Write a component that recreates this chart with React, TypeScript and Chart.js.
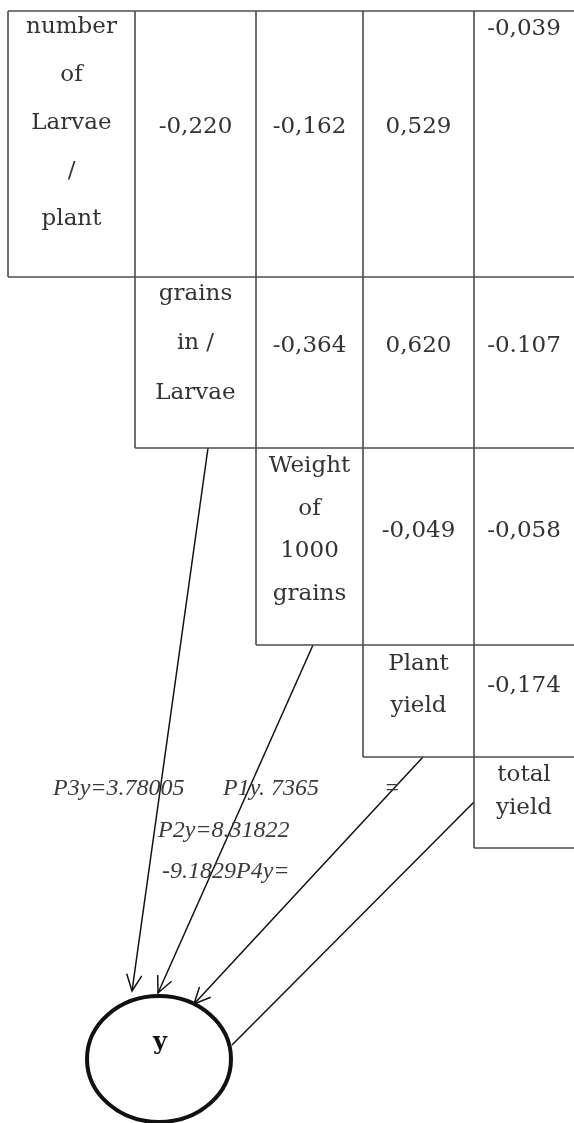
import React, { useEffect, useRef } from "react";
import { Chart, registerables } from "chart.js";

Chart.register(...registerables);

// ---------- data ----------
const rowLabels: string[][] = [
  ["number", "of", "Larvae", "/", "plant"],
  ["grains", "in /", "Larvae"],
  ["Weight", "of", "1000", "grains"],
  ["Plant", "yield"],
  ["total", "yield"],
];
const coefRow1 = ["-0,220", "-0,162", "0,529", "-0,039"];
const coefRow2 = ["-0,364", "0,620", "-0.107"];
const coefRow3 = ["-0,049", "-0,058"];
const coefRow4 = ["-0,174"];
const coefficients: string[][] = [coefRow1, coefRow2, coefRow3, coefRow4, []];
const pathCoefficients = ["P3y=3.78005", "P1y. 7365", "=", "P2y=8.31822", "-9.1829P4y="];
const outcomeLabel = "y";

// ---------- layout (canvas units) ----------
const W = 574;
const H = 1123;
const colEdges = [8, 135, 256, 363, 474, 574];
const rowEdges = [11, 277, 448, 645, 757, 848];
const labelCenters = [129, 349, 536, 691, 797];
const labelSteps = [48, 49.5, 42.7, 42, 33];
const valueBaselines = [133, 352, 537, 692];
const lastColFirstRowBaseline = 35;
const pathPos = [
  { x: 53, y: 795, align: "left" },
  { x: 223, y: 795, align: "left" },
  { x: 392, y: 795, align: "center" },
  { x: 158, y: 837, align: "left" },
  { x: 162, y: 878, align: "left" },
];
const arrows = [
  { from: [208, 448], to: [132, 991], head: true },
  { from: [313, 645], to: [158, 993], head: true },
  { from: [423, 757], to: [194, 1004], head: true },
  { from: [474, 802], to: [232, 1045], head: false },
];
const ellipse = { cx: 159, cy: 1059, rx: 72, ry: 63 };

const TABLE_FONT = '23px "DejaVu Serif"';
const TEXT_COLOR = "#333";
const GRID_COLOR = "#4d4d4d";

function buildGridSegments() {
  const segs: { x: number; y: number }[][] = [];
  segs.push([
    { x: colEdges[0], y: rowEdges[0] },
    { x: colEdges[5], y: rowEdges[0] },
  ]);
  for (let r = 0; r < 5; r++) {
    segs.push([
      { x: colEdges[r], y: rowEdges[r + 1] },
      { x: colEdges[5], y: rowEdges[r + 1] },
    ]);
  }
  for (let c = 0; c < 5; c++) {
    segs.push([
      { x: colEdges[c], y: rowEdges[0] },
      { x: colEdges[c], y: rowEdges[c + 1] },
    ]);
  }
  return segs;
}

const textPlugin = {
  id: "diagramText",
  afterDatasetsDraw(chart: any) {
    const { ctx, scales } = chart;
    const px = (v: number) => scales.x.getPixelForValue(v);
    const py = (v: number) => scales.y.getPixelForValue(v);
    ctx.save();
    // arrowheads
    ctx.strokeStyle = "#111";
    ctx.lineWidth = 1.5;
    arrows.forEach((a) => {
      if (!a.head) return;
      const tx = px(a.to[0]);
      const ty = py(a.to[1]);
      const fx = px(a.from[0]);
      const fy = py(a.from[1]);
      const ang = Math.atan2(fy - ty, fx - tx);
      const len = 18;
      const spread = (25 * Math.PI) / 180;
      ctx.beginPath();
      ctx.moveTo(tx + len * Math.cos(ang - spread), ty + len * Math.sin(ang - spread));
      ctx.lineTo(tx, ty);
      ctx.lineTo(tx + len * Math.cos(ang + spread), ty + len * Math.sin(ang + spread));
      ctx.stroke();
    });
    // ellipse
    ctx.beginPath();
    ctx.lineWidth = 4;
    ctx.strokeStyle = "#111";
    const ecx = px(ellipse.cx);
    const ecy = py(ellipse.cy);
    const erx = px(ellipse.cx + ellipse.rx) - ecx;
    const ery = Math.abs(py(ellipse.cy + ellipse.ry) - ecy);
    ctx.ellipse(ecx, ecy, erx, ery, 0, 0, Math.PI * 2);
    ctx.stroke();

    // table labels
    ctx.fillStyle = TEXT_COLOR;
    ctx.font = TABLE_FONT;
    ctx.textAlign = "center";
    ctx.textBaseline = "alphabetic";
    rowLabels.forEach((lines, r) => {
      const cx = px((colEdges[r] + colEdges[r + 1]) / 2);
      const n = lines.length;
      lines.forEach((t, i) => {
        const by = labelCenters[r] + (i - (n - 1) / 2) * labelSteps[r];
        ctx.fillText(t, cx, py(by));
      });
    });
    coefficients.forEach((vals, r) => {
      vals.forEach((v, k) => {
        const c = r + 1 + k;
        const cx = px((colEdges[c] + colEdges[c + 1]) / 2);
        const by = r === 0 && c === 4 ? lastColFirstRowBaseline : valueBaselines[r];
        ctx.fillText(v, cx, py(by));
      });
    });
    // path coefficients
    ctx.fillStyle = "#3a3a3a";
    ctx.font = 'italic 24px "Liberation Serif"';
    pathCoefficients.forEach((t, i) => {
      const p = pathPos[i];
      ctx.textAlign = p.align as CanvasTextAlign;
      ctx.fillText(t, px(p.x), py(p.y));
    });
    // outcome
    ctx.fillStyle = "#111";
    ctx.font = 'bold 24px "DejaVu Serif"';
    ctx.textAlign = "center";
    ctx.fillText(outcomeLabel, px(160), py(1049));
    ctx.restore();
  },
};

export default function App() {
  const ref = useRef<HTMLCanvasElement | null>(null);
  useEffect(() => {
    if (!ref.current) return;
    const gridSets = buildGridSegments().map((seg) => ({
      data: seg,
      showLine: true,
      borderColor: GRID_COLOR,
      borderWidth: 1.6,
      pointRadius: 0,
      fill: false,
    }));
    const arrowSets = arrows.map((a) => ({
      data: [
        { x: a.from[0], y: a.from[1] },
        { x: a.to[0], y: a.to[1] },
      ],
      showLine: true,
      borderColor: "#111",
      borderWidth: 1.5,
      pointRadius: 0,
      fill: false,
    }));
    const chart = new Chart(ref.current, {
      type: "scatter",
      data: { datasets: [...gridSets, ...arrowSets] as any },
      options: {
        animation: false,
        responsive: false,
        devicePixelRatio: 1,
        layout: { padding: 0 },
        plugins: { legend: { display: false }, tooltip: { enabled: false } },
        events: [],
        scales: {
          x: { type: "linear", min: 0, max: W, display: false },
          y: { type: "linear", min: 0, max: H, reverse: true, display: false },
        },
      },
      plugins: [textPlugin],
    });
    return () => chart.destroy();
  }, []);
  return (
    <div style={{ position: "fixed", left: 0, top: 0, width: W, height: H, background: "#fff" }}>
      <canvas ref={ref} width={W} height={H} style={{ display: "block" }} />
    </div>
  );
}
